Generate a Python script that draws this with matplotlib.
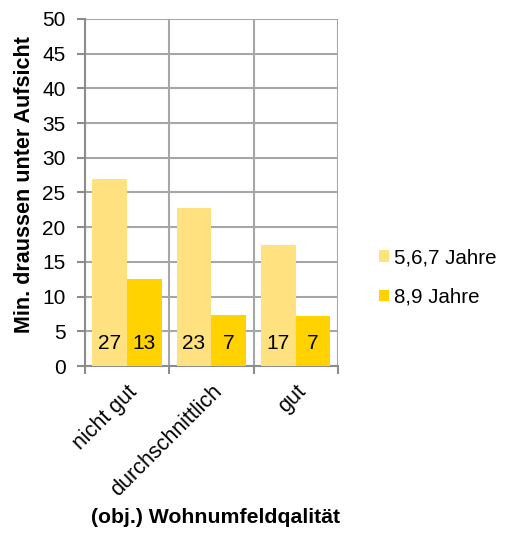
import numpy as np
import matplotlib
matplotlib.use('Agg')
import matplotlib.pyplot as plt

# Daten
kategorien = ['nicht gut', 'durchschnittlich', 'gut']
jahre_567 = [27.0, 22.8, 17.4]
jahre_89 = [12.5, 7.3, 7.2]
label_567 = ['27', '23', '17']
label_89 = ['13', '7', '7']
serien = ['5,6,7 Jahre', '8,9 Jahre']

plt.rcParams['font.family'] = ['Liberation Sans', 'DejaVu Sans']

fig = plt.figure(figsize=(5.05, 5.33), dpi=100)
ax = fig.add_axes([0.168, 0.3133, 0.501, 0.6511])

x = np.arange(len(kategorien))
w = 0.41
hell = '#FFE17F'
dunkel = '#FFD200'
ax.bar(x - w / 2, jahre_567, w, color=hell, label=serien[0], zorder=3)
ax.bar(x + w / 2, jahre_89, w, color=dunkel, label=serien[1], zorder=3)

for i in range(len(x)):
    ax.text(x[i] - w / 2, 3.3, label_567[i], ha='center', va='center', fontsize=15, zorder=4)
    ax.text(x[i] + w / 2, 3.3, label_89[i], ha='center', va='center', fontsize=15, zorder=4)

ax.set_xlim(-0.5, 2.5)
ax.set_ylim(0, 50)
ax.set_yticks(np.arange(0, 51, 5))
ax.set_xticks(x)
ax.set_xticklabels(kategorien, rotation=45, ha='right', va='top', rotation_mode='anchor', fontsize=15.5)
ax.set_xticks([-0.5, 0.5, 1.5, 2.5], minor=True)
ax.tick_params(axis='x', which='major', length=0, pad=11)
ax.tick_params(axis='x', which='minor', length=6, width=1.5, color='#8c8c8c')
ax.tick_params(axis='y', length=6, width=1.5, color='#8c8c8c', labelsize=15, pad=8)

gridfarbe = '#a6a6a6'
ax.grid(axis='y', color=gridfarbe, linewidth=1.5, zorder=0)
ax.grid(axis='x', which='minor', color=gridfarbe, linewidth=1.5, zorder=0)
for s in ['top', 'right']:
    ax.spines[s].set_visible(False)
ax.spines['left'].set_color('#8c8c8c')
ax.spines['left'].set_linewidth(1.5)
ax.spines['bottom'].set_color('#8c8c8c')
ax.spines['bottom'].set_linewidth(1.5)

fig.text(25 / 505, 0.653, 'Min. draussen unter Aufsicht', fontsize=15.5, fontweight='bold',
         rotation=90, ha='center', va='center')
fig.text(216 / 505, 0.03, '(obj.) Wohnumfeldqalität', fontsize=15.3, fontweight='bold', ha='center', va='center')

ax.legend(loc='center left', bbox_to_anchor=(1.162, 0.255), frameon=False, fontsize=14.8,
          borderaxespad=0, borderpad=0, handlelength=0.5, handleheight=0.5,
          handletextpad=0.25, labelspacing=1.0)

fig.savefig('out.png', dpi=100)
